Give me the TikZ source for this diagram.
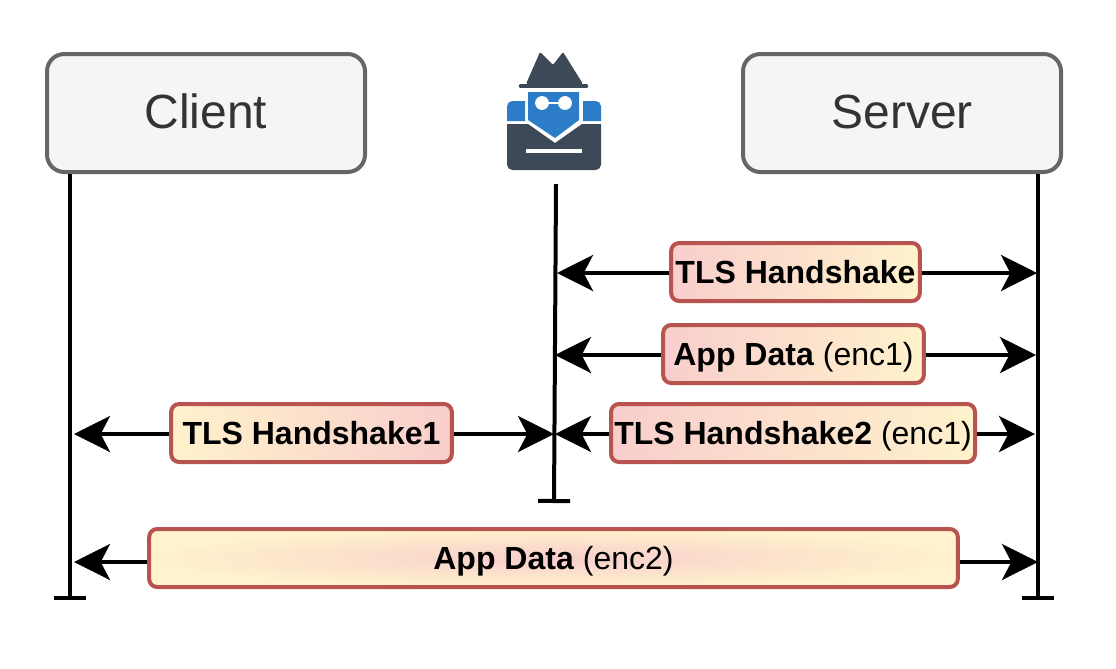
\documentclass[tikz,border=0pt]{standalone}
\usepackage{fontspec}
\setmainfont{Liberation Sans}
\usetikzlibrary{arrows.meta, shapes.geometric, positioning, calc}
\definecolor{myframe}{RGB}{102,102,102}
\definecolor{mytext}{RGB}{51,51,51}
\definecolor{mypanel}{RGB}{245,245,245}
\definecolor{myred}{RGB}{184,84,80}
\definecolor{mypink}{RGB}{248,206,204}
\definecolor{mycream}{RGB}{255,242,204}
\definecolor{mydark}{RGB}{62,73,88}
\definecolor{myblue}{RGB}{45,124,200}
\tikzset{
  hostbox/.style={rectangle, draw=myframe, fill=mypanel, text=mytext,
    minimum width=238.5pt, minimum height=88.5pt, inner sep=0pt,
    text height=26pt, text depth=3.5pt,
    font=\fontsize{36}{40}\selectfont, rounded corners=13pt, line width=3pt},
  msgbox/.style={rectangle, draw=myred, minimum height=43.5pt, inner sep=0pt,
    text height=17pt, text depth=0.5pt,
    font=\fontsize{24}{28}\selectfont, rounded corners=6pt, line width=3pt},
  pinkcream/.style={msgbox, left color=mypink, right color=mycream},
  creampink/.style={msgbox, left color=mycream, right color=mypink},
  glowbox/.style={msgbox, inner color=mypink, outer color=mycream},
  msg/.style={-{Stealth[length=27pt, width=27pt, inset=7pt]}, line width=3pt, color=black},
  life/.style={-{Bar[width=24pt]}, line width=3pt, color=black}
}

\begin{document}
\begin{tikzpicture}[x=0.75pt, y=-0.75pt]
  \useasboundingbox (0,0) rectangle (1116,668);

  % Hosts
  \node[hostbox] (client) at (206,113) {Client};
  \node[hostbox] (server) at (902,113) {Server};

  % Lifelines
  \coordinate (clientfoot) at (70,600);
  \coordinate (serverfoot) at (1038,600);
  \coordinate (spytop) at (556,184);
  \coordinate (spyfoot) at (554,503);
  \draw[life] (client.south -| clientfoot) -- (clientfoot);
  \draw[life] (server.south -| serverfoot) -- (serverfoot);
  \draw[life] (spytop) -- (spyfoot);

  % Spy icon
  \fill[mydark, rounded corners=1pt] (526,84) -- (540,52) -- (553,65) -- (563,52) -- (583,84) -- cycle;
  \draw[mydark, line width=3.5pt, line cap=round] (521,86) -- (586,86);
  \fill[myblue] (528,92) -- (579,92) -- (579,120) -- (555,138) -- (528,120) -- cycle;
  \fill[white] (542,103) circle (5.2pt);
  \fill[white] (565,103) circle (5.2pt);
  \draw[white, line width=1.5pt] (542,103) -- (565,103);
  \fill[myblue] (507,121) [rounded corners=4pt] -- (507,101) [sharp corners] -- (525,101) -- (525,121) -- cycle;
  \fill[myblue] (601,121) [rounded corners=4pt] -- (601,101) [sharp corners] -- (583,101) -- (583,121) -- cycle;
  \fill[mydark] (507,124) -- (528,124) -- (555,143) -- (582,124) -- (601,124)
    [rounded corners=4pt] -- (601,170) -- (507,170) [sharp corners] -- cycle;
  \draw[white, line width=3pt] (526,151) -- (582,151);

  % Messages
  \node[pinkcream, minimum width=186.5pt] (handshake) at (795.5,272) {\textbf{TLS Handshake}};
  \node[pinkcream, minimum width=195.5pt] (appdata) at (793.5,354) {\textbf{App Data} (enc1)};
  \node[creampink, minimum width=210.5pt] (handshakeA) at (311.5,433) {\textbf{TLS Handshake1}};
  \node[pinkcream, minimum width=273pt] (handshakeB) at (793,433) {\textbf{TLS Handshake2} (enc1)};
  \node[glowbox, minimum width=606.5pt] (appdataB) at (553.5,558) {\textbf{App Data} (enc2)};

  % Arrows
  \coordinate (rowAleft) at (557,273);
  \coordinate (rowAright) at (1037,273);
  \coordinate (rowBleft) at (555,355);
  \coordinate (rowBright) at (1036,355);
  \coordinate (rowCleft) at (74,434);
  \coordinate (rowCmidA) at (554,434);
  \coordinate (rowCmidB) at (555,434);
  \coordinate (rowCright) at (1035,434);
  \coordinate (rowDleft) at (74,562);
  \coordinate (rowDright) at (1038,562);
  \draw[msg] (handshake.west |- rowAleft) -- (rowAleft);
  \draw[msg] (handshake.east |- rowAright) -- (rowAright);
  \draw[msg] (appdata.west |- rowBleft) -- (rowBleft);
  \draw[msg] (appdata.east |- rowBright) -- (rowBright);
  \draw[msg] (handshakeA.west |- rowCleft) -- (rowCleft);
  \draw[msg] (handshakeA.east |- rowCmidA) -- (rowCmidA);
  \draw[msg] (handshakeB.west |- rowCmidB) -- (rowCmidB);
  \draw[msg] (handshakeB.east |- rowCright) -- (rowCright);
  \draw[msg] (appdataB.west |- rowDleft) -- (rowDleft);
  \draw[msg] (appdataB.east |- rowDright) -- (rowDright);
\end{tikzpicture}
\end{document}
